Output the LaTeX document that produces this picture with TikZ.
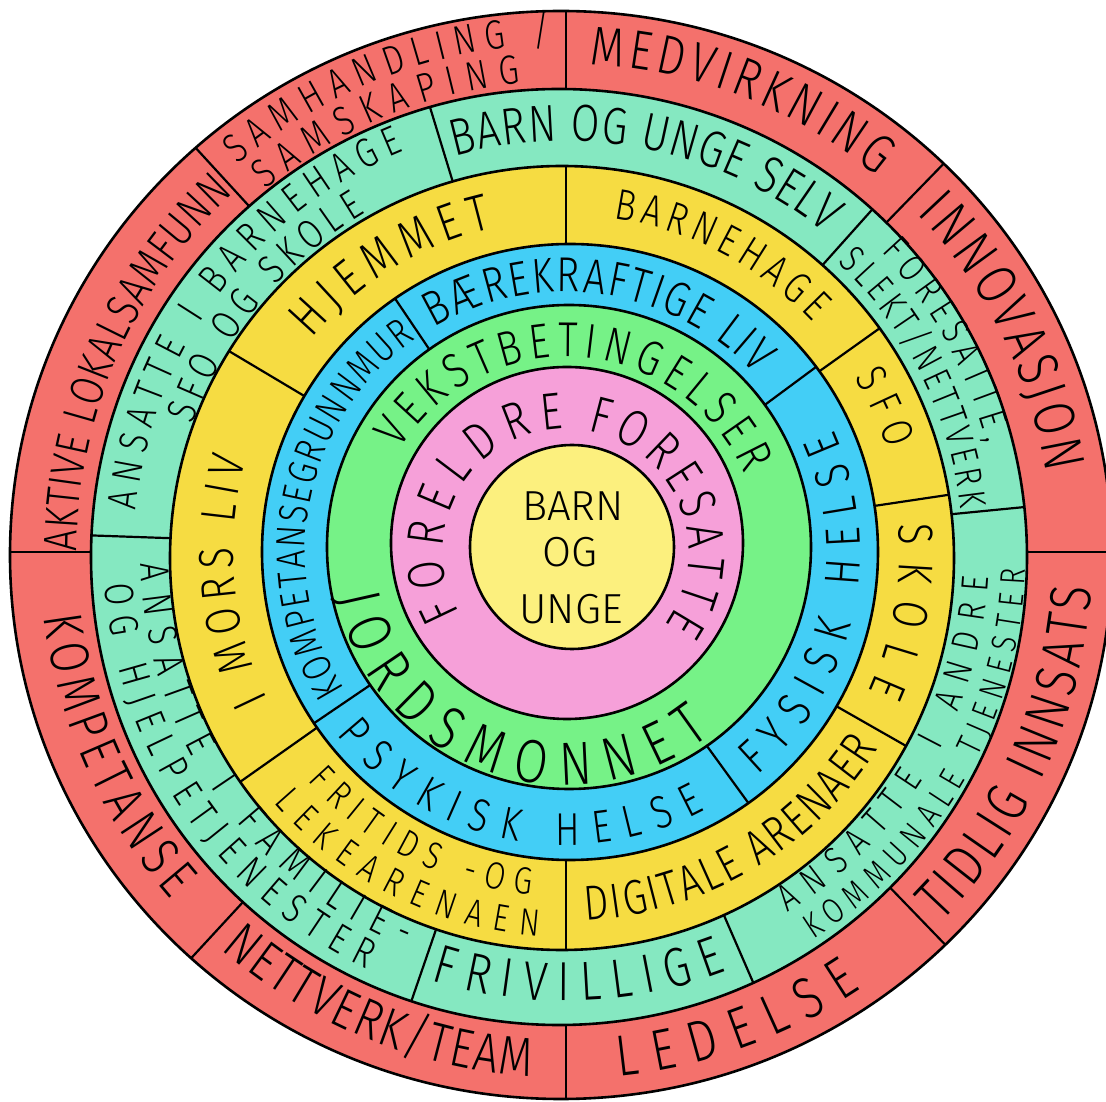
\documentclass[tikz,border=0pt]{standalone}
\usepackage{fontspec}
\newfontfamily\hand{Fira Sans Light}[FakeStretch=0.8]
\newfontfamily\handwide{Fira Sans Light}
\usetikzlibrary{decorations.text}

\definecolor{ringred}{HTML}{F4716C}
\definecolor{ringteal}{HTML}{85E8C1}
\definecolor{ringyellow}{HTML}{F6DC42}
\definecolor{ringblue}{HTML}{43CEF6}
\definecolor{ringgreen}{HTML}{76F287}
\definecolor{ringpink}{HTML}{F6A0D9}
\definecolor{coreyellow}{HTML}{FCF07E}

% text along an arc: radius, start angle, end angle, font size, text
\newcommand{\arctext}[5]{%
  \path[decorate, decoration={text along path, text align={fit to path},
        text={|\hand\fontsize{#4}{#4}\selectfont|#5}}]
    (#2:#1) arc[start angle=#2, end angle=#3, radius=#1];}

% one ring: centre, radius, colour, divider angles
\newcommand{\ring}[4]{%
  \fill[#3] #1 circle[radius=#2];
  \begin{scope}
    \clip #1 circle[radius=#2];
    \foreach \a in {#4} \draw[divider] (0,0) -- (\a:600);
  \end{scope}
  \draw[outline] #1 circle[radius=#2];}

\begin{document}
\begin{tikzpicture}[
  x=1pt, y=1pt,
  outline/.style = {line width=2.6pt},
  divider/.style = {line width=2.2pt},
  core/.style    = {font=\handwide\fontsize{42}{42}\selectfont, inner sep=0pt},
]
\useasboundingbox (-566,-550) rectangle (540,552);
\clip (-566,-550) rectangle (540,552);

% ── RINGS, outside in ───────────────────────────────────────────────
\fill[ringred] (-5,-3) circle[x radius=551, y radius=544];
\begin{scope}
  \clip (-5,-3) circle[x radius=551, y radius=544];
  \foreach \a in {0,45.8,90,132.5,180,227.3,270,314}
    \draw[divider] (0,0) -- (\a:600);
\end{scope}
\draw[outline] (-5,-3) circle[x radius=551, y radius=544];

\ring{(-7,-5)}{468}{ringteal}{5.6,48.2,107,178,251,293.5}
\ring{(-4,-6)}{392}{ringyellow}{8.5,35.5,90,149.2,215.2,270,330.3}
\ring{(4,0)}{308}{ringblue}{36.5,124,214.2,306}

\fill[ringgreen] (3,5) circle[radius=242];
\draw[outline] (3,5) circle[radius=242];
\fill[ringpink] (1,9) circle[radius=176];
\draw[outline] (1,9) circle[radius=176];
\fill[coreyellow] (6,5) circle[radius=102];
\draw[outline] (6,5) circle[radius=102];

% ── OUTER RING ──────────────────────────────────────────────────────
\arctext{508}{130.3}{91.8}{41}{SAMHANDLING /}
\arctext{471}{129.7}{95.5}{41}{SAMSKAPING}
\arctext{488}{87.2}{50.4}{55}{MEDVIRKNING}
\arctext{487}{44.0}{9.3}{58}{INNOVASJON}
\arctext{527}{315.4}{356.1}{58}{TIDLIG INNSATS}
\arctext{527}{275.7}{304.1}{58}{LEDELSE}
\arctext{526}{229}{266.2}{55}{NETTVERK/TEAM}
\arctext{526}{187}{221.3}{55}{KOMPETANSE}
\arctext{489}{180}{132.8}{47}{AKTIVE LOKALSAMFUNN}

% ── TEAL RING ───────────────────────────────────────────────────────
\arctext{432}{174.5}{112}{41}{ANSATTE I BARNEHAGE}
\arctext{394}{161.2}{120.6}{41}{SFO OG SKOLE}
\arctext{411}{105.7}{50.8}{52}{BARN OG UNGE SELV}
\arctext{435}{43.6}{14.5}{38}{FORESATTE,}
\arctext{397}{46.8}{6.2}{38}{SLEKT/NETTVERK}
\arctext{423}{301.6}{356.6}{38}{ANSATTE I ANDRE}
\arctext{460}{302.5}{357.8}{35}{KOMMUNALE TJENESTER}
\arctext{449}{252.5}{291}{55}{FRIVILLIGE}
\arctext{426}{181.6}{247.8}{41}{ANSATTE I FAMILIE-}
\arctext{462}{184}{244.4}{41}{OG HJELPETJENESTER}

% ── YELLOW RING ─────────────────────────────────────────────────────
\arctext{332}{140}{102.8}{52}{HJEMMET}
\arctext{337}{81.9}{43}{43.5}{BARNEHAGE}
\arctext{337}{31.2}{17.7}{43.5}{SFO}
\arctext{333}{4.7}{-24.7}{49}{SKOLE}
\arctext{369}{273.1}{327.9}{49}{DIGITALE ARENAER}
\arctext{345}{221.5}{264.2}{38}{FRITIDS -OG}
\arctext{385}{220.5}{266}{38}{LEKEARENAEN}
\arctext{333}{206.3}{163.9}{49}{I MORS LIV}

% ── BLUE RING ───────────────────────────────────────────────────────
\arctext{261}{211.9}{125.2}{41}{KOMPETANSEGRUNNMUR}
\arctext{260}{120.5}{43.1}{49}{BÆREKRAFTIGE LIV}
\arctext{294}{310.5}{384.5}{49}{FYSISK HELSE}
\arctext{293}{218.6}{298.4}{46}{PSYKISK HELSE}

% ── GREEN AND PINK ──────────────────────────────────────────────────
\arctext{195}{148.5}{23.4}{49}{VEKSTBETINGELSER}
\arctext{233}{191}{308.5}{61}{JORDSMONNET}
\arctext{123}{210}{91}{52}{FORELDRE}
\arctext{123}{80}{-36}{52}{FORESATTE}

% ── CORE ────────────────────────────────────────────────────────────
\node[core] (barn) at (7,46)  {BARN};
\node[core] (og)   at (4,0)   {OG};
\node[core] (unge) at (5,-57) {UNGE};

\end{tikzpicture}
\end{document}
